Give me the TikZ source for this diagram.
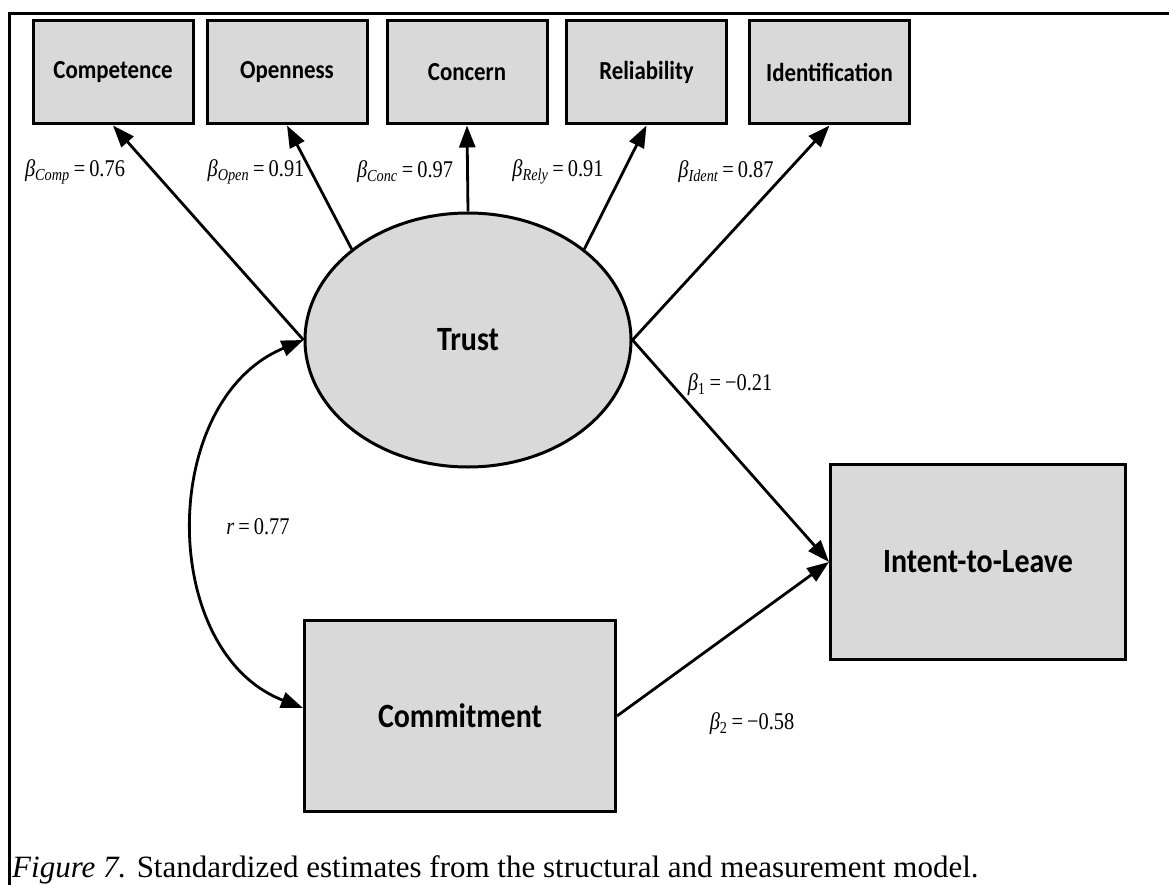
\documentclass[tikz,border=0pt]{standalone}
\usepackage{fontspec}
\setmainfont{Liberation Serif}
\newfontfamily\calib[FakeStretch=0.88]{Carlito}
\newfontfamily\coeffont[FakeStretch=0.85]{Liberation Serif}
\usetikzlibrary{shapes.geometric,arrows.meta}
\definecolor{boxgray}{HTML}{D9D9D9}

\def\by{72.5}
\def\ly{172}

\begin{document}
\begin{tikzpicture}[x=1pt, y=-1pt]
	\tikzset{ind/.style={draw, fill=boxgray, line width=3pt, minimum width=160pt, minimum height=103pt, inner sep=0pt, font=\calib\bfseries\fontsize{26}{30}\selectfont},
		big/.style={ind, font=\calib\bfseries\fontsize{34}{38}\selectfont},
		lat/.style={ellipse, draw, fill=boxgray, line width=3pt, minimum width=326pt, minimum height=254pt, inner sep=0pt, font=\calib\bfseries\fontsize{34}{38}\selectfont},
		tip/.tip={Triangle[length=22pt,width=16pt]},
		edge/.style={-tip, line width=2.8pt},
		coef/.style={inner sep=0pt, font=\coeffont\fontsize{24}{28}\selectfont}}
	\useasboundingbox (0,0) rectangle (1169,885);
	\draw[line width=3pt] (9,885) -- (9,14) -- (1169,14);
	\node[ind](comp) at (113,\by){Competence};
	\node[ind](open) at (287,\by){Openness};
	\node[ind](conc) at (467,\by){Concern};
	\node[ind](rely) at (646.5,\by){Reliability};
	\node[ind](ident) at (829.5,\by){Identification};
	\node[lat](trust) at (468,340){Trust};
	\node[big, minimum width=311pt, minimum height=191pt](commit) at (460,716){Commitment};
	\node[big, minimum width=295pt, minimum height=195pt](intent) at (978,562){Intent-to-Leave};
	\draw[edge](trust.west) -- (comp.south);
	\draw[edge](trust.142) -- (open.south);
	\draw[edge](trust.north) -- (conc.south);
	\draw[edge](trust.38) -- (rely.south);
	\draw[edge](trust.east) -- (ident.south);
	\draw[edge](trust.east) -- (intent.west);
	\draw[edge](commit.east) -- (intent.west);
	\draw[tip-tip, line width=2.8pt](trust.west) .. controls (158,400) and (158,652) .. ([yshift=8pt]commit.west);
	\node[coef](lcomp) at (75,\ly){\textit{β}\textsubscript{\itshape Comp}\,=\,0.76};
	\node[coef](lopen) at (256,\ly){\textit{β}\textsubscript{\itshape Open}\,=\,0.91};
	\node[coef](lconc) at (405,\ly){\textit{β}\textsubscript{\itshape Conc}\,=\,0.97};
	\node[coef](lrely) at (558,\ly){\textit{β}\textsubscript{\itshape Rely}\,=\,0.91};
	\node[coef](lident) at (726,\ly){\textit{β}\textsubscript{\itshape Ident}\,=\,0.87};
	\node[coef](lb1) at (730,385){\textit{β}\textsubscript{1}\,=\,−0.21};
	\node[coef](lr) at (258,527){\textit{r}\,=\,0.77};
	\node[coef](lb2) at (752,724){\textit{β}\textsubscript{2}\,=\,−0.58};
	\node[anchor=base west, inner sep=0pt, font=\fontsize{31}{35}\selectfont](cap) at (12,877){\textit{Figure 7.} Standardized estimates from the structural and measurement model.};
\end{tikzpicture}
\end{document}
